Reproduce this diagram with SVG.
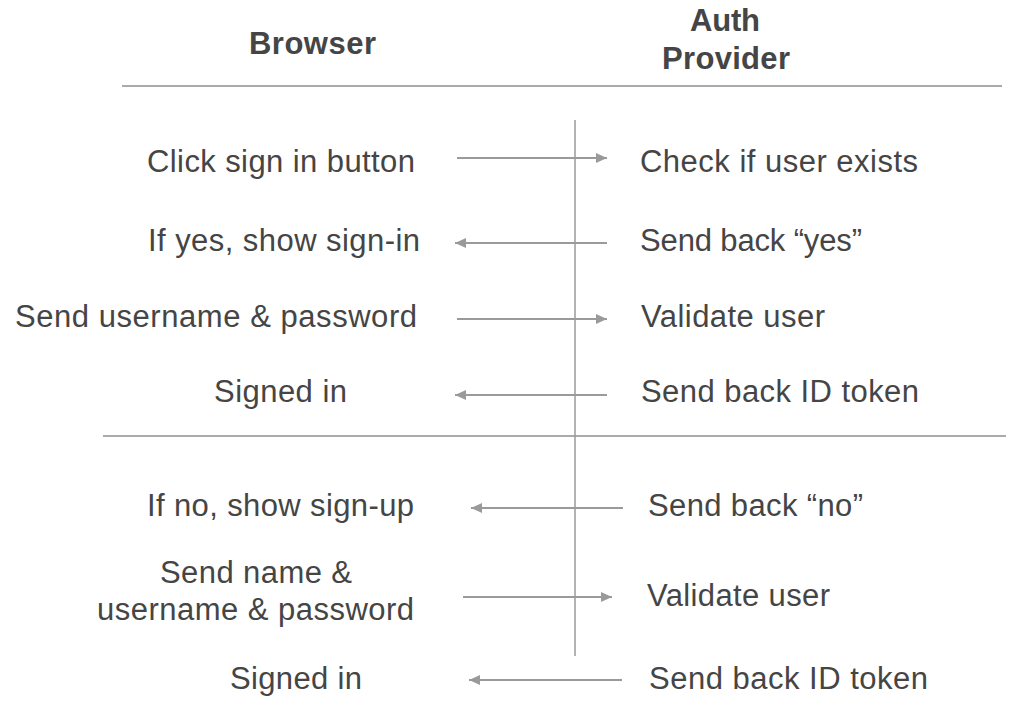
<svg xmlns="http://www.w3.org/2000/svg" width="1010" height="709" viewBox="0 0 1010 709">
<style>
  text { font-family: "Liberation Sans", Arial, Helvetica, sans-serif; fill: #454545; }
  .lbl { font-size: 31px; }
  .hdr { font-size: 31px; font-weight: bold; }
  .rule { stroke: #aaaaaa; stroke-width: 2; fill: none; }
  .life { stroke: #9a9a9a; stroke-width: 1.5; fill: none; }
  .msg { stroke: #9a9a9a; stroke-width: 2; fill: none; marker-end: url(#arrow); }
</style>
<defs>
  <marker id="arrow" markerUnits="userSpaceOnUse" markerWidth="12" markerHeight="12" refX="11" refY="5" orient="auto">
    <path d="M0,0 L11,5 L0,10 Z" fill="#9a9a9a"/>
  </marker>
</defs>
<rect width="1010" height="709" fill="#ffffff"/>

<g id="headers">
  <g id="browser-header"><text class="hdr" x="249" y="54" textLength="127" lengthAdjust="spacing">Browser</text></g>
  <g id="auth-header">
    <text class="hdr" x="690" y="31" textLength="70" lengthAdjust="spacing">Auth</text>
    <text class="hdr" x="662" y="69" textLength="128" lengthAdjust="spacing">Provider</text>
  </g>
</g>

<g id="rules">
  <line class="rule" x1="122" y1="86" x2="1002" y2="86"/>
  <line class="rule" x1="103" y1="436" x2="1006" y2="436"/>
  <line class="life" x1="575" y1="120" x2="575" y2="656"/>
</g>

<g id="browser-steps">
  <g id="b1"><text class="lbl" x="147" y="172" textLength="268" lengthAdjust="spacing">Click sign in button</text></g>
  <g id="b2"><text class="lbl" x="148" y="251" textLength="272" lengthAdjust="spacing">If yes, show sign-in</text></g>
  <g id="b3"><text class="lbl" x="15" y="327" textLength="402" lengthAdjust="spacing">Send username &amp; password</text></g>
  <g id="b4"><text class="lbl" x="214" y="402" textLength="133" lengthAdjust="spacing">Signed in</text></g>
  <g id="b5"><text class="lbl" x="147" y="516" textLength="267" lengthAdjust="spacing">If no, show sign-up</text></g>
  <g id="b6">
    <text class="lbl" x="160" y="583" textLength="192" lengthAdjust="spacing">Send name &amp;</text>
    <text class="lbl" x="97" y="620" textLength="317" lengthAdjust="spacing">username &amp; password</text>
  </g>
  <g id="b7"><text class="lbl" x="230" y="689" textLength="132" lengthAdjust="spacing">Signed in</text></g>
</g>

<g id="auth-steps">
  <g id="a1"><text class="lbl" x="640" y="172" textLength="278" lengthAdjust="spacing">Check if user exists</text></g>
  <g id="a2"><text class="lbl" x="640" y="251" textLength="222" lengthAdjust="spacing">Send back “yes”</text></g>
  <g id="a3"><text class="lbl" x="641" y="327" textLength="184" lengthAdjust="spacing">Validate user</text></g>
  <g id="a4"><text class="lbl" x="641" y="402" textLength="278" lengthAdjust="spacing">Send back ID token</text></g>
  <g id="a5"><text class="lbl" x="648" y="516" textLength="215" lengthAdjust="spacing">Send back “no”</text></g>
  <g id="a6"><text class="lbl" x="647" y="606" textLength="183" lengthAdjust="spacing">Validate user</text></g>
  <g id="a7"><text class="lbl" x="649" y="689" textLength="279" lengthAdjust="spacing">Send back ID token</text></g>
</g>

<g id="connectors">
  <line class="msg" x1="457" y1="158" x2="607" y2="158"/>
  <line class="msg" x1="607" y1="243" x2="455" y2="243"/>
  <line class="msg" x1="457" y1="319" x2="607" y2="319"/>
  <line class="msg" x1="607" y1="395" x2="455" y2="395"/>
  <line class="msg" x1="623" y1="508" x2="471" y2="508"/>
  <line class="msg" x1="463" y1="597" x2="612" y2="597"/>
  <line class="msg" x1="622" y1="680" x2="469" y2="680"/>
</g>
</svg>
